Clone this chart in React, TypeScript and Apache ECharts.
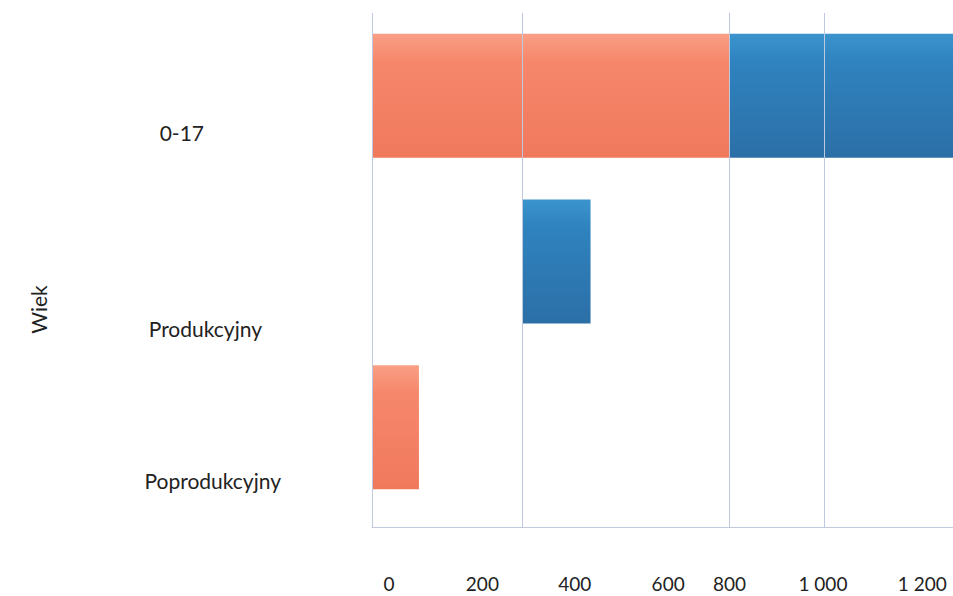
import React, { useEffect, useRef } from "react";
import * as echarts from "echarts";

const categories = ["0-17", "Produkcyjny", "Poprodukcyjny"];
const offsetValues = [0, 336, 0];
const orangeValues = [800, 0, 105];
const blueValues = [620, 153, 0];
const gridLineValues = [0, 336, 800, 1011];
const axisMax = 1300;
const axisInterval = 200;

const FONT = "Lato, 'Open Sans', sans-serif";

// label nudges (style only): [top, right, bottom, left] padding
const catNudge: [number, number, number, number][] = [
  [74, 77, 0, 0],
  [134, 19, 0, 0],
  [106, 0, 0, 0],
];
const xNudge: Record<number, number> = { 0: 17, 200: 21, 400: 24, 600: 28, 800: 0, 1000: 4, 1200: 14 };

const fmt = (v: number) => String(v).replace(/\B(?=(\d{3})+(?!\d))/g, " ");

export default function App() {
  const ref = useRef<HTMLDivElement>(null);
  useEffect(() => {
    if (!ref.current) return;
    const chart = echarts.init(ref.current, null, { renderer: "svg" });
    const rich: Record<string, any> = {};
    Object.keys(xNudge).forEach((k) => {
      rich["n" + k] = {
        fontFamily: FONT,
        fontSize: 19,
        color: "#222",
        padding: [0, 0, 0, xNudge[Number(k)] * 2],
      };
    });
    const catRich: Record<string, any> = {};
    catNudge.forEach((p, i) => {
      catRich["c" + i] = {
        fontFamily: FONT,
        fontSize: 21,
        color: "#222",
        padding: p,
      };
    });
    const orangeGrad = new echarts.graphic.LinearGradient(0, 0, 0, 1, [
      { offset: 0, color: "#F99F85" },
      { offset: 0.22, color: "#F6876B" },
      { offset: 1, color: "#F0795C" },
    ]);
    const blueGrad = new echarts.graphic.LinearGradient(0, 0, 0, 1, [
      { offset: 0, color: "#3B94CE" },
      { offset: 0.22, color: "#2F83BF" },
      { offset: 1, color: "#2C6FA7" },
    ]);
    chart.setOption({
      animation: false,
      backgroundColor: "#ffffff",
      grid: [
        { left: 372, right: 0, top: 13, bottom: 69 },
        { left: 372, right: 0, top: 13, bottom: 86 },
      ],
      xAxis: [
        {
          gridIndex: 0,
          type: "value",
          min: 0,
          max: axisMax,
          interval: axisInterval,
          axisLine: { show: true, lineStyle: { color: "#C3CADB", width: 1 } },
          axisTick: { show: false },
          splitLine: { show: false },
          axisLabel: {
            margin: 47,
            showMaxLabel: false,
            formatter: (v: number) => `{n${v}|${fmt(v)}}`,
            rich,
            fontFamily: FONT,
            fontSize: 19,
            color: "#222",
          },
        },
        {
          gridIndex: 1,
          type: "value",
          min: 0,
          max: axisMax,
          show: false,
          splitLine: { show: false },
        },
      ],
      yAxis: [
        { gridIndex: 0, type: "category", data: categories, show: false },
        {
          gridIndex: 1,
          type: "category",
          inverse: true,
          data: categories,
          axisLine: { show: false },
          axisTick: { show: false },
          axisLabel: {
            margin: 91,
            formatter: (v: string, i: number) => `{c${i}|${v}}`,
            rich: catRich,
            fontFamily: FONT,
            fontSize: 21,
            color: "#222",
          },
          name: "Wiek",
          nameLocation: "middle",
          nameGap: 323,
          nameRotate: 90,
          nameTextStyle: {
            fontFamily: FONT,
            fontSize: 21,
            color: "#222",
            padding: [0, 96, 0, 0],
          },
        },
      ],
      series: [
        {
          type: "scatter",
          xAxisIndex: 0,
          yAxisIndex: 0,
          data: [],
          silent: true,
          markLine: {
            silent: true,
            symbol: ["none", "none"],
            label: { show: false },
            lineStyle: { color: "#BEC8DE", width: 1, type: "solid" },
            data: gridLineValues.map((v) => ({ xAxis: v })),
          },
        },
        {
          name: "offset",
          type: "bar",
          stack: "age",
          xAxisIndex: 1,
          yAxisIndex: 1,
          barWidth: 124,
          silent: true,
          itemStyle: { color: "rgba(0,0,0,0)" },
          data: offsetValues,
        },
        {
          name: "A",
          type: "bar",
          stack: "age",
          xAxisIndex: 1,
          yAxisIndex: 1,
          barWidth: 124,
          itemStyle: { color: orangeGrad },
          data: orangeValues,
        },
        {
          name: "B",
          type: "bar",
          stack: "age",
          xAxisIndex: 1,
          yAxisIndex: 1,
          barWidth: 124,
          itemStyle: { color: blueGrad },
          data: blueValues,
        },
      ],
    });
    return () => chart.dispose();
  }, []);
  return <div ref={ref} style={{ width: 953, height: 596, position: "absolute", left: 0, top: 0 }} />;
}
